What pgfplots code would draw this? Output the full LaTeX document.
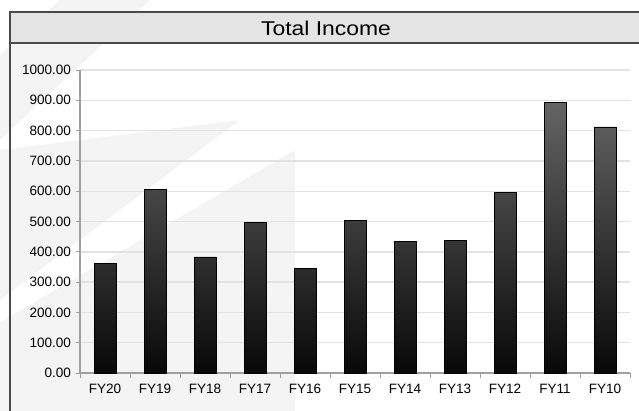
\documentclass[border=0pt]{standalone}
\usepackage{fontspec}
\setmainfont{Liberation Sans}
\usepackage{pgfplots}
\pgfplotsset{compat=1.18}
\definecolor{wm}{HTML}{F4F4F5}
\definecolor{titlebg}{HTML}{E4E4E5}
\definecolor{framecol}{HTML}{4A4A4A}
\definecolor{axgray}{HTML}{A0A0A0}
\definecolor{gridgray}{HTML}{E2E2E2}
\definecolor{bartop}{HTML}{646464}
\definecolor{barmid}{HTML}{4A4A4A}
\definecolor{barbot}{HTML}{080808}
\begin{document}
\begin{tikzpicture}
\begin{scope}[x=1bp,y=1bp]
\useasboundingbox (0,0) rectangle (639,-410);
% faint watermark
\fill[wm] (60,0) -- (150,0) -- (0,-140) -- (0,-55) -- cycle;
\fill[wm] (0,-150) -- (240,-120) -- (0,-300) -- cycle;
\fill[wm] (295,-150) -- (295,-420) -- (-5,-420) -- (-5,-325) -- cycle;
% frame and title band
\fill[titlebg] (10,-12) rectangle (650,-43);
\draw[framecol, line width=2bp] (10,-420) -- (10,-12) -- (650,-12);
\draw[framecol, line width=2bp] (10,-43) -- (650,-43);
\node[xscale=1.15, font=\fontsize{20}{24}\selectfont] at (326,-28.5) {Total Income};
\end{scope}
\begin{axis}[
  at={(80bp,-373bp)}, anchor=south west,
  scale only axis, width=550bp, height=303bp,
  xmin=-0.5, xmax=10.5, ymin=0, ymax=1000,
  axis x line*=bottom, axis y line*=left,
  axis line style={draw=axgray, line width=1.2bp},
  xtick={0,...,10},
  xticklabels={FY20,FY19,FY18,FY17,FY16,FY15,FY14,FY13,FY12,FY11,FY10},
  major x tick style={draw=none},
  minor xtick={-0.5,0.5,...,10.5},
  minor x tick style={draw=axgray, line width=1bp},
  ytick={0,100,...,1000},
  major y tick style={draw=axgray, line width=1bp},
  tick align=outside,
  major tick length=4bp, minor tick length=5bp,
  ymajorgrids, grid style={draw=gridgray, line width=1.4bp},
  ticklabel style={font=\fontsize{13.6}{16}\selectfont, black},
  /pgf/number format/.cd, fixed, fixed zerofill, precision=2, 1000 sep={}, assume math mode=true,
  /pgfplots/.cd,
  yticklabel style={xshift=-1.5bp},
  xticklabel style={yshift=-4bp},
  ybar, bar width=22bp,
]
\addplot[ybar, draw=black, line width=0.7bp, top color=bartop, middle color=barmid, bottom color=barbot]
  coordinates {(0,362) (1,607) (2,383) (3,497) (4,346) (5,503) (6,435) (7,438) (8,597) (9,894) (10,812)};
\end{axis}
\end{tikzpicture}
\end{document}
